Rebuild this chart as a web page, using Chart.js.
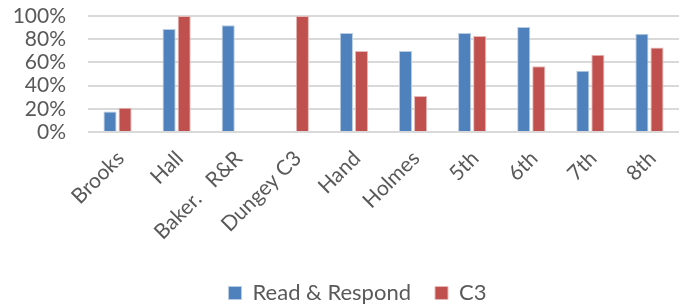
<!DOCTYPE html>
<html>
<head>
<meta charset="utf-8">
<script src="https://cdn.jsdelivr.net/npm/chart.js@4"></script>
<style>
  html, body { margin: 0; padding: 0; background: #fff; }
  #wrap { width: 683px; height: 308px; }
</style>
</head>
<body>
<div id="wrap"><canvas id="chart"></canvas></div>
<script>
// chart data
const categories = ["Brooks", "Hall", "Baker.   R&R", "Dungey C3", "Hand", "Holmes", "5th", "6th", "7th", "8th"];
const readRespond = [17.7, 88.8, 92, 0, 85.4, 69.9, 85.4, 90.5, 52.7, 84.8];
const c3 = [20.9, 100, 0, 100, 69.9, 31, 82.8, 56.7, 66.5, 72.8];
const yTicks = [0, 20, 40, 60, 80, 100];

const textColor = "#595959";
const font = { family: "Lato", size: 21 };

// nudge the legend a bit right, like the original
const legendShift = {
  id: "legendShift",
  afterLayout(chart) {
    chart.legend.left += 36;
  },
};

new Chart(document.getElementById("chart"), {
  type: "bar",
  data: {
    labels: categories,
    datasets: [
      {
        label: "Read & Respond",
        data: readRespond,
        backgroundColor: "#4F81BD",
        borderColor: "#b8cce4",
        borderWidth: 1,
        barPercentage: 0.87,
        categoryPercentage: 0.51,
      },
      {
        label: "C3",
        data: c3,
        backgroundColor: "#C0504D",
        borderColor: "#e6b9b8",
        borderWidth: 1,
        barPercentage: 0.87,
        categoryPercentage: 0.51,
      },
    ],
  },
  plugins: [legendShift],
  options: {
    responsive: true,
    maintainAspectRatio: false,
    animation: false,
    layout: { padding: { left: 0, right: 4, top: 0, bottom: -6 } },
    plugins: {
      tooltip: { enabled: false },
      legend: {
        position: "bottom",
        labels: {
          color: textColor,
          font: { family: "Lato", size: 22 },
          boxWidth: 13,
          boxHeight: 13,
          padding: 24,
          useBorderRadius: false,
        },
      },
    },
    scales: {
      x: {
        grid: { display: false },
        border: { display: false },
        ticks: {
          color: textColor,
          font: font,
          maxRotation: 45,
          minRotation: 45,
          autoSkip: false,
          labelOffset: 3,
          padding: 6,
        },
        afterFit: (scale) => { scale.height = 126; },
      },
      y: {
        min: 0,
        max: 100,
        afterBuildTicks: (scale) => { scale.ticks = yTicks.map((v) => ({ value: v })); },
        grid: { color: "#d9d9d9", lineWidth: 2, drawTicks: false },
        border: { display: false },
        ticks: {
          color: textColor,
          font: font,
          autoSkip: false,
          padding: 22,
          callback: (v) => v + "%",
        },
        afterFit: (scale) => {
          scale.width = 88;
          scale.paddingTop = 16;
          scale.paddingBottom = 0;
        },
      },
    },
  },
});
</script>
</body>
</html>
